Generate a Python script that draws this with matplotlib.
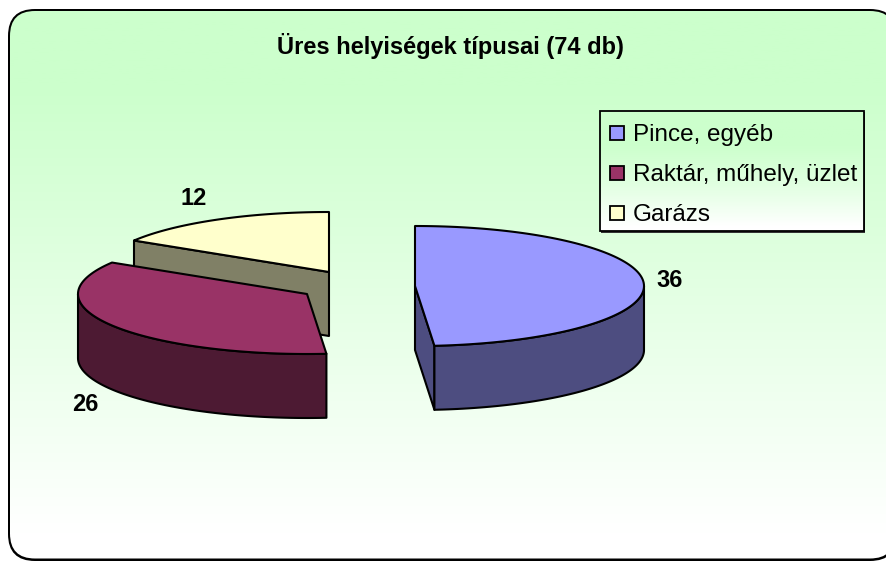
# -*- coding: utf-8 -*-
import numpy as np
import matplotlib
matplotlib.use('Agg')
import matplotlib.pyplot as plt
from matplotlib.colors import LinearSegmentedColormap
from matplotlib.patches import FancyBboxPatch, Polygon, Rectangle

plt.rcParams['font.family'] = ['Liberation Sans', 'DejaVu Sans']

# data
title = 'Üres helyiségek típusai (74 db)'
categories = ['Pince, egyéb', 'Raktár, műhely, üzlet', 'Garázs']
values = [36, 26, 12]

# styles
top_colors = ['#9999FF', '#993366', '#FFFFCC']
side_colors = ['#4D4D80', '#4D1A33', '#808066']
centers = [(415, 286), (307, 294), (329, 272)]
label_pos = [(670, 280), (85, 404), (194, 198)]
RX, RY, DEPTH = 229, 60, 64


def arc(cx, cy, a, b):
    # angles in degrees, clockwise from 12 o'clock
    t = np.radians(np.linspace(a, b, 120))
    return np.column_stack([cx + RX * np.sin(t), cy - RY * np.cos(t)])


def draw_poly(ax, pts, color, z):
    ax.add_patch(Polygon(pts, closed=True, facecolor=color, edgecolor='black',
                         linewidth=1.5, joinstyle='round', zorder=z))


def draw_slice(ax, cx, cy, a, b, top, side, z):
    apex = np.array([cx, cy])
    down = np.array([0, DEPTH])
    # cut faces, only those turned to the viewer
    if np.sin(np.radians(a)) < -1e-6:
        p = arc(cx, cy, a, a)[0]
        draw_poly(ax, [apex, p, p + down, apex + down], side, z)
    if np.sin(np.radians(b)) > 1e-6:
        p = arc(cx, cy, b, b)[0]
        draw_poly(ax, [apex, p, p + down, apex + down], side, z)
    # outer wall, front half only
    lo, hi = max(a, 90), min(b, 270)
    if lo < hi:
        edge = arc(cx, cy, lo, hi)
        draw_poly(ax, np.vstack([edge, edge[::-1] + down]), side, z)
    draw_poly(ax, np.vstack([apex, arc(cx, cy, a, b)]), top, z)


def rounded(x0, y0, x1, y1, r, **kw):
    return FancyBboxPatch((x0 + r, y0 + r), x1 - x0 - 2 * r, y1 - y0 - 2 * r,
                          boxstyle=f'round,pad={r},rounding_size={r}', **kw)


fig = plt.figure(figsize=(8.87, 5.61), dpi=100)
ax = fig.add_axes([0, 0, 1, 1])
ax.axis('off')

grad = LinearSegmentedColormap.from_list(
    'g', [(0, '#CCFFCC'), (0.14, '#CCFFCC'), (0.95, '#FFFFFF'), (1, '#FFFFFF')])

# frame: black shape under an inset gradient, so the part off the canvas stays clean
ax.add_patch(rounded(8, 9, 897, 561, 27, facecolor='black', edgecolor='none', zorder=1))
inner = rounded(10, 11, 895, 558.5, 25, facecolor='none', edgecolor='none', zorder=1)
ax.add_patch(inner)
bg = ax.imshow(np.linspace(0, 1, 256)[:, None], cmap=grad, vmin=0, vmax=1,
               extent=(8, 897, 560, 10), aspect='auto', zorder=2)
bg.set_clip_path(inner)

# slices, back one first
bounds = np.concatenate([[0], np.cumsum(values)]) / sum(values) * 360
for i in [2, 1, 0]:
    draw_slice(ax, centers[i][0], centers[i][1], bounds[i], bounds[i + 1],
               top_colors[i], side_colors[i], 5 + (2 - i))

for v, (x, y) in zip(values, label_pos):
    ax.text(x, y, str(v), fontsize=17, fontweight='bold', ha='center', va='center', zorder=10)

ax.text(450, 46, title, fontsize=17, fontweight='bold', ha='center', va='center', zorder=10)

# legend
ax.add_patch(Rectangle((601, 112), 264, 121, facecolor='#333333', edgecolor='none', zorder=8))
box = Rectangle((600, 111), 264, 120, facecolor='none', edgecolor='black', linewidth=1.3, zorder=9)
ax.add_patch(box)
leg = ax.imshow(np.linspace(0, 1, 64)[:, None] ** 1.5, cmap=grad, vmin=0, vmax=1,
                extent=(600, 864, 231, 111), aspect='auto', zorder=8.5)
leg.set_clip_path(box)
for i, name in enumerate(categories):
    y = 133 + 40 * i
    ax.add_patch(Rectangle((610, y - 7), 14, 14, facecolor=top_colors[i], edgecolor='black',
                           linewidth=1.3, zorder=10))
    ax.text(633, y + 1.5, name, fontsize=17.5, ha='left', va='center', zorder=10)

ax.set_xlim(0, 887)
ax.set_ylim(561, 0)

fig.savefig('out.png', dpi=100)
